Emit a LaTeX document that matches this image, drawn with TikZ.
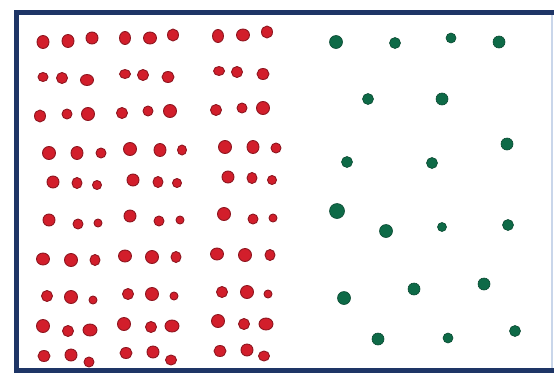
\documentclass[tikz,border=0pt]{standalone}
\definecolor{frameblue}{HTML}{1E3566}
\definecolor{edgelight}{HTML}{C9D6EA}
\definecolor{dotred}{HTML}{D21E2B}
\definecolor{dotredline}{HTML}{8E1620}
\definecolor{dotgreen}{HTML}{0E6A47}
\definecolor{dotgreenline}{HTML}{0A4A32}
\tikzset{
  reddot/.style={fill=dotred,draw=dotredline,line width=0.9pt},
  greendot/.style={fill=dotgreen,draw=dotgreenline,line width=0.6pt},
  framepart/.style={draw=frameblue,line width=4.2pt},
}
\begin{document}
\begin{tikzpicture}[x=1pt,y=-1pt]
\useasboundingbox (0,0) rectangle (556,378);
\fill[white] (0,0) rectangle (556,378);
% frame
\draw[edgelight,line width=1.2pt] (552,12.5) -- (552,370.5);
\draw[framepart,line cap=rect] (552,12.5) -- (16.5,12.5) -- (16.5,370.5) -- (552,370.5);
% red dots
\foreach \x/\y/\rx/\ry in {
 43/42/6/6.5, 68/41/6/6.5, 92/38/6/6, 125/38/5.5/6.5, 150/38/6.5/6, 173/35/5.5/6,
 218/36/5.5/6.5, 243/35/6.5/6, 267/32/5.5/6,
 43/77/5/4.5, 62/78/5.5/5.5, 87/80/6.5/5.5, 125/74/5.5/4.5, 143/75/5.5/5.5, 168/77/6/5.5,
 219/71/5.5/4.5, 237/72/5.5/5.5, 263/74/6/5.5,
 40/116/5.5/6, 67/114/5/5, 88/114/6.5/6.5, 122/113/5.5/5.5, 148/111/5/5, 170/111/6.5/6.5,
 216/110/5.5/5.5, 242/108/5/5, 263/108/6.5/6.5,
 49/153/6.5/6.5, 77/153/6/6.5, 101/153/5/5, 130/149/6.5/6.5, 160/150/6/6.5, 182/150/4.5/5,
 225/147/6.5/6.5, 253/147/6/6.5, 276/148/5/5,
 53/182/6/6, 77/183/5/5.5, 97/185/4.5/4.5, 133/180/6/6, 158/182/5/5.5, 177/183/4.5/4.5,
 228/177/6/6, 252/178/5/5.5, 272/180/4.5/4.5,
 49/220/6/6, 78/224/5/5, 98/223/4/4, 130/216/6/6, 159/221/5/5, 180/220/4/4,
 224/214/6.5/6.5, 253/219/5/5, 273/218/4/4,
 43/259/6.5/6, 71/260/6.5/6.5, 95/260/5/5.5, 125/256/6.5/6, 152/257/6.5/6.5, 176/257/5/5.5,
 217/254/6.5/6, 245/255/6.5/6.5, 270/255/5/5.5,
 47/296/5.5/5.5, 71/297/6.5/6.5, 93/300/4/4, 128/294/5.5/5.5, 152/294/6.5/6.5, 174/296/4/4,
 222/292/5.5/5.5, 247/292/6.5/6.5, 268/294/4/4,
 43/326/6.5/6.5, 68/331/5.5/5.5, 90/330/7/6, 124/324/6.5/6.5, 151/327/5.5/5.5, 172/326/7/6,
 218/321/6.5/6.5, 244/324/5.5/5.5, 266/324/7/6,
 44/356/6/5.5, 71/355/6/6, 89/362/5/5, 126/353/6/5.5, 153/352/6/6, 171/360/5.5/5,
 220/351/6/5.5, 247/350/6/6, 264/356/5.5/5}
 \fill[reddot] (\x,\y) ellipse [x radius=\rx, y radius=\ry];
% green dots
\foreach \x/\y/\r in {
 336/42/6.5, 395/43/5.5, 451/38/5, 499/42/6,
 368/99/5.5, 442/99/6,
 507/144/6, 347/162/5.5, 432/163/5.5,
 337/211/7.5, 386/231/6.5, 442/227/4.5, 508/225/5.5,
 344/298/6.5, 414/289/6, 484/284/6,
 378/339/6, 448/338/5, 515/331/5.5}
 \fill[greendot] (\x,\y) circle [radius=\r];
\end{tikzpicture}
\end{document}
